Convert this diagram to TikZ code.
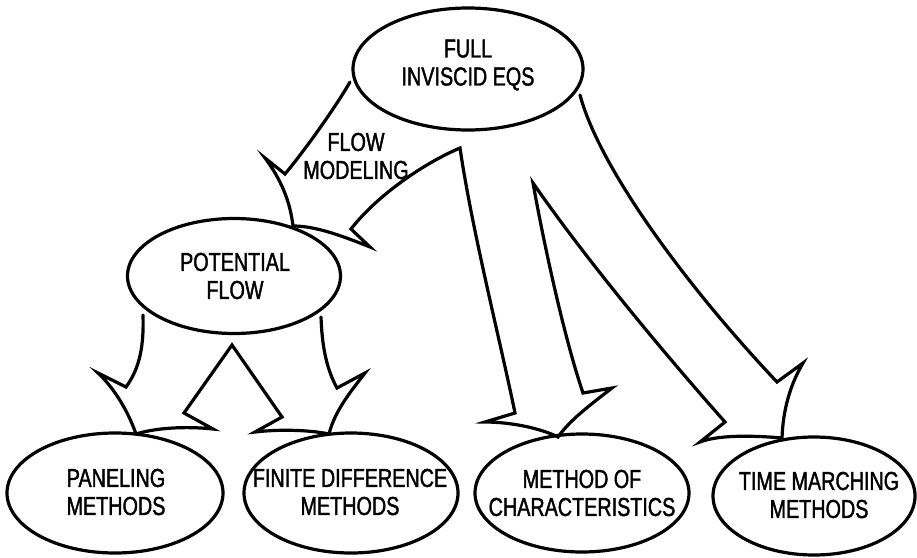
\documentclass[tikz,border=0pt]{standalone}
\usepackage{fontspec}
\setmainfont{Liberation Sans}[FakeStretch=0.76, FakeBold=1.5]
\usetikzlibrary{shapes.geometric}
\begin{document}
\begin{tikzpicture}[x=1pt,y=-1pt,
  bubble/.style={draw, ellipse, line width=3.2pt, inner sep=0pt},
  caption/.style={align=center, font=\fontsize{26}{28}\selectfont, inner sep=0pt},
  outline/.style={draw, line width=3.2pt, line join=miter, line cap=round}]
\useasboundingbox (0,0) rectangle (917,557);

% ellipses
\node[bubble, minimum width=230pt, minimum height=122pt] (full) at (468,69) {};
\node[bubble, minimum width=213pt, minimum height=115pt] (pf)   at (234,276) {};
\node[bubble, minimum width=216pt, minimum height=120pt] (pan)  at (115,493) {};
\node[bubble, minimum width=214pt, minimum height=120pt] (fd)   at (351,493) {};
\node[bubble, minimum width=214pt, minimum height=118pt] (moc)  at (582,493) {};
\node[bubble, minimum width=202pt, minimum height=118pt] (tm)   at (814,496) {};

% captions
\node[caption] (fullT) at (468,65)  {FULL\\INVISCID EQS};
\node[caption] (pfT)   at (235,276) {POTENTIAL\\FLOW};
\node[caption] (panT)  at (116,492) {PANELING\\METHODS};
\node[caption] (fdT)   at (350,492) {FINITE DIFFERENCE\\METHODS};
\node[caption] (mocT)  at (582,493) {METHOD OF\\CHARACTERISTICS};
\node[caption] (tmT)   at (819,495) {TIME MARCHING\\METHODS};
\node[caption] (fmT)   at (356,156) {FLOW\\MODELING};

% block arrows from the potential flow
\draw[outline] (143,315) .. controls (144,345) and (140,368) .. (126,387)
  -- (98,373) .. controls (112,386) and (127,408) .. (136,434);
\draw[outline] (136,434) .. controls (155,428) and (185,426) .. (213,429)
  -- (184,413) -- (232,345) -- (282,417) -- (255,432)
  .. controls (280,429) and (310,430) .. (329,434);
\draw[outline] (321,317) .. controls (322,345) and (326,368) .. (337,388)
  -- (365,373) .. controls (352,390) and (335,410) .. (329,434);

% block arrows from the full inviscid equations
\draw[outline] (350,82) .. controls (335,108) and (305,150) .. (285,174)
  -- (265,158) .. controls (280,178) and (290,200) .. (293,226)
  .. controls (315,226) and (340,235) .. (370,247)
  -- (351,229) .. controls (375,198) and (420,165) .. (460,148)
  .. controls (472,230) and (500,340) .. (515,413)
  -- (485,422) .. controls (510,422) and (540,428) .. (558,437)
  .. controls (570,420) and (590,405) .. (612,388)
  -- (583,393) .. controls (565,340) and (545,250) .. (533,183)
  .. controls (590,265) and (670,360) .. (725,422)
  -- (700,442) .. controls (720,434) and (760,436) .. (782,438)
  .. controls (783,410) and (790,385) .. (803,363)
  -- (777,382) .. controls (690,290) and (600,170) .. (580,95);
\end{tikzpicture}
\end{document}
